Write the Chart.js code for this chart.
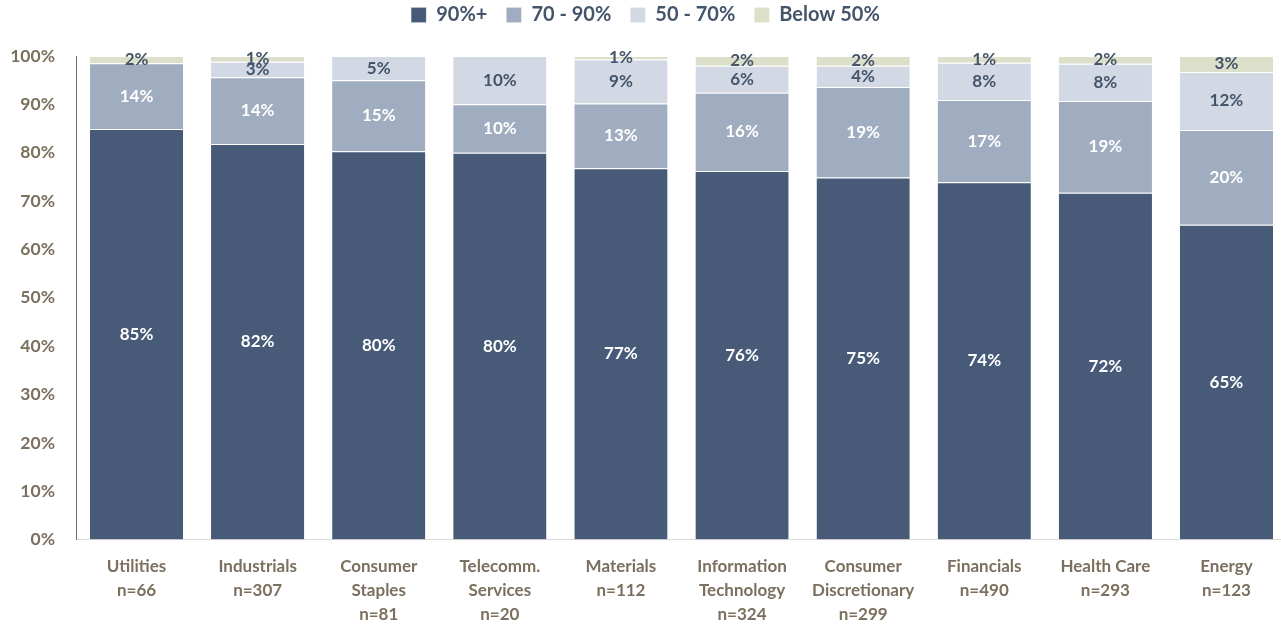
<!DOCTYPE html>
<html>
<head>
<meta charset="utf-8">
<script src="https://cdn.jsdelivr.net/npm/chart.js@4"></script>
<style>
  html, body { margin: 0; padding: 0; background: #fff; overflow: hidden; }
  #wrap { width: 1290px; height: 626px; }
</style>
</head>
<body>
<div id="wrap"><canvas id="chart"></canvas></div>
<script>
// sectors with sample size, one array per line of the label
const sectors = [
  ["Utilities", "n=66"],
  ["Industrials", "n=307"],
  ["Consumer", "Staples", "n=81"],
  ["Telecomm.", "Services", "n=20"],
  ["Materials", "n=112"],
  ["Information", "Technology", "n=324"],
  ["Consumer", "Discretionary", "n=299"],
  ["Financials", "n=490"],
  ["Health Care", "n=293"],
  ["Energy", "n=123"]
];

// share of companies in each band (%)
const above90 = [84.9, 81.8, 80.3, 80.0, 76.8, 76.2, 74.9, 73.9, 71.7, 65.1];
const from70to90 = [13.6, 13.8, 14.7, 10.0, 13.4, 16.2, 18.7, 17.0, 19.0, 19.6];
const from50to70 = [0, 3.2, 5.0, 10.0, 9.1, 5.6, 4.4, 7.7, 7.7, 12.0];
const below50 = [1.5, 1.2, 0, 0, 0.7, 2.0, 2.0, 1.4, 1.6, 3.3];

const yTicks = [0, 10, 20, 30, 40, 50, 60, 70, 80, 90, 100];

const axisColor = "#7b6f5e";
const darkText = "#44546a";
const fontFam = "Lato, 'Open Sans', sans-serif";

// draws the value in the middle of each segment
const segLabels = {
  id: "segLabels",
  afterDatasetsDraw(chart) {
    const ctx = chart.ctx;
    ctx.save();
    ctx.font = "bold 17px " + fontFam;
    ctx.textAlign = "center";
    ctx.textBaseline = "middle";
    chart.data.datasets.forEach((ds, i) => {
      const meta = chart.getDatasetMeta(i);
      meta.data.forEach((bar, j) => {
        const v = ds.data[j];
        if (!v) return;
        const p = bar.getProps(["x", "y", "base"], true);
        ctx.fillStyle = i < 2 ? "#ffffff" : darkText;
        ctx.fillText(Math.round(v) + "%", p.x, (p.y + p.base) / 2);
      });
    });
    ctx.restore();
  }
};

// extra room under the legend
const legendGap = {
  id: "legendGap",
  beforeInit(chart) {
    const fit = chart.legend.fit;
    chart.legend.fit = function () {
      fit.call(this);
      this.height += 21;
    };
  }
};

new Chart(document.getElementById("chart"), {
  type: "bar",
  data: {
    labels: sectors,
    datasets: [
      { label: "90%+", data: above90, backgroundColor: "#475a78" },
      { label: "70 - 90%", data: from70to90, backgroundColor: "#a0acbf" },
      { label: "50 - 70%", data: from50to70, backgroundColor: "#d3d9e4" },
      { label: "Below 50%", data: below50, backgroundColor: "#dcdfc9" }
    ]
  },
  options: {
    responsive: true,
    maintainAspectRatio: false,
    animation: false,
    layout: { padding: { left: 4, right: 3, top: -14, bottom: -15 } },
    datasets: {
      bar: {
        categoryPercentage: 0.77,
        barPercentage: 1.0,
        borderWidth: { top: 1 },
        borderColor: "rgba(255,255,255,0.7)"
      }
    },
    plugins: {
      legend: {
        position: "top",
        labels: {
          color: darkText,
          font: { family: fontFam, size: 20, weight: "bold" },
          boxWidth: 15,
          boxHeight: 15,
          padding: 19
        }
      },
      tooltip: { enabled: false }
    },
    scales: {
      x: {
        stacked: true,
        grid: { display: false, drawTicks: false },
        border: { color: "#d9d9d9" },
        ticks: {
          color: axisColor,
          padding: 15,
          maxRotation: 0,
          autoSkip: false,
          font: { family: fontFam, size: 17, weight: "bold", lineHeight: 1.4 }
        }
      },
      y: {
        stacked: true,
        min: 0,
        max: 100,
        afterBuildTicks(axis) {
          axis.ticks = yTicks.map(v => ({ value: v }));
        },
        afterFit(axis) {
          axis.width = 72;
        },
        grid: { display: false, drawOnChartArea: false, drawTicks: true, tickLength: 4, color: axisColor },
        border: { color: axisColor },
        ticks: {
          color: axisColor,
          padding: 17,
          font: { family: fontFam, size: 17.5, weight: "bold" },
          callback: v => v + "%"
        }
      }
    }
  },
  plugins: [segLabels, legendGap]
});
</script>
</body>
</html>
